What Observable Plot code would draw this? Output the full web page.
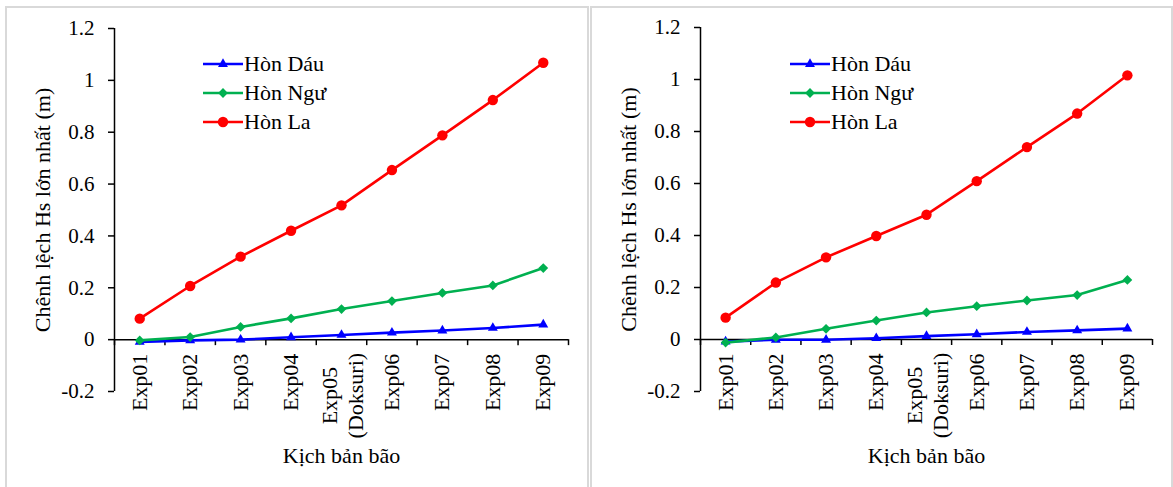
<!DOCTYPE html>
<html>
<head>
<meta charset="utf-8">
<script src="https://cdn.jsdelivr.net/npm/d3@7"></script>
<script src="https://cdn.jsdelivr.net/npm/@observablehq/plot@0.6"></script>
<style>
  html, body { margin: 0; padding: 0; background: #fff; overflow: hidden; }
  #wrap { position: relative; width: 1173px; height: 487px; overflow: hidden;
          font-family: "Liberation Serif", "Times New Roman", serif; color: #000; }
  .box { position: absolute; top: 6px; height: 520px; border: 2px solid #d9d9d9;
         border-bottom: none; box-sizing: border-box; }
  .panel { position: absolute; top: 0; }
  .panel svg text { font-family: "Liberation Serif", "Times New Roman", serif; }
  .legend { position: absolute; top: 49px; font-size: 22px; line-height: 29px; }
  .legend .row { display: flex; align-items: center; height: 29px; white-space: nowrap; }
  .legend svg { display: block; margin-right: 1px; }
</style>
</head>
<body>
<div id="wrap">
  <div class="box" style="left:5px;width:584px"></div>
  <div class="box" style="left:590px;width:583px"></div>
  <div id="p1" class="panel" style="left:0px"></div>
  <div id="p2" class="panel" style="left:586px"></div>
</div>
<script>
// ---------- data ----------
const categories = ["Exp01", "Exp02", "Exp03", "Exp04", "Exp05", "Exp06", "Exp07", "Exp08", "Exp09"];
const tickLabels = ["Exp01", "Exp02", "Exp03", "Exp04", "Exp05\n(Doksuri)", "Exp06", "Exp07", "Exp08", "Exp09"];
const seriesNames = ["Hòn Dáu", "Hòn Ngư", "Hòn La"];

// left panel
const leftHonDau = [-0.009, -0.003, 0.000, 0.009, 0.018, 0.027, 0.035, 0.045, 0.058];
const leftHonNgu = [-0.003, 0.010, 0.049, 0.082, 0.118, 0.149, 0.180, 0.209, 0.276];
const leftHonLa  = [0.081, 0.207, 0.320, 0.420, 0.518, 0.654, 0.788, 0.924, 1.068];

// right panel
const rightHonDau = [-0.008, -0.001, -0.001, 0.005, 0.013, 0.020, 0.029, 0.035, 0.042];
const rightHonNgu = [-0.012, 0.008, 0.041, 0.073, 0.104, 0.128, 0.150, 0.171, 0.229];
const rightHonLa  = [0.084, 0.219, 0.316, 0.398, 0.480, 0.609, 0.740, 0.869, 1.016];

const yTicks = [-0.2, 0, 0.2, 0.4, 0.6, 0.8, 1, 1.2];
const yTitle = "Chênh lệch Hs lớn nhất (m)";
const xTitle = "Kịch bản bão";

// ---------- styles ----------
const seriesColors = ["#0000ff", "#00b050", "#ff0000"];
const seriesSymbols = ["triangle", "diamond2", "circle"];
const seriesR = [3.7, 4.4, 5.2];
const d3Symbols = {triangle: d3.symbolTriangle, diamond2: d3.symbolDiamond2, circle: d3.symbolCircle};
const FONT = '"Liberation Serif", "Times New Roman", serif';

function makePanel(values, marginTop, marginRight) {
  const rows = [];
  seriesNames.forEach((name, s) =>
    values[s].forEach((v, i) => rows.push({series: name, pos: i + 0.5, value: v})));
  const labelRows = tickLabels.map((t, i) => ({pos: i + 0.5, text: t}));
  const single = labelRows.filter(d => !d.text.includes("\n"));
  const multi = labelRows.filter(d => d.text.includes("\n"));

  const seriesMarks = [];
  seriesNames.forEach((name, s) => {
    const data = rows.filter(d => d.series === name);
    seriesMarks.push(Plot.line(data, {x: "pos", y: "value", stroke: seriesColors[s], strokeWidth: 2.6}));
    seriesMarks.push(Plot.dot(data, {x: "pos", y: "value", fill: seriesColors[s], stroke: "none",
                                     symbol: seriesSymbols[s], r: seriesR[s]}));
  });

  return Plot.plot({
    width: 586,
    height: 487,
    marginLeft: 114,
    marginRight,
    marginTop,
    marginBottom: 96,
    x: {domain: [0, categories.length], axis: null},
    y: {domain: [-0.2, 1.2], axis: null},
    style: `font-family: ${FONT}; font-size: 22px; background: transparent; overflow: visible; color: #000;`,
    marks: [
      Plot.axisY({ticks: yTicks, tickFormat: d => String(d), tickSize: 6, tickPadding: 14,
                  label: null, fontSize: 21, fontFamily: FONT, strokeWidth: 1.5, color: "#000"}),
      Plot.ruleX([0], {stroke: "#000", strokeWidth: 1.5}),
      Plot.ruleX(d3.range(categories.length + 1), {x: d => d, y1: 0, y2: 0, insetBottom: -6,
                  stroke: "#000", strokeWidth: 1.5}),
      Plot.ruleY([0], {stroke: "#000", strokeWidth: 1.5}),
      ...seriesMarks,
      Plot.text(single, {x: "pos", y: 0, text: "text", rotate: -90, textAnchor: "end",
                         lineAnchor: "middle", dy: 14, fontSize: 22, fontFamily: FONT, fill: "#000"}),
      Plot.text(multi, {x: "pos", y: 0, text: "text", rotate: -90, textAnchor: "middle",
                        lineAnchor: "middle", dy: 56, lineHeight: 1.18, fontSize: 22, fontFamily: FONT, fill: "#000"}),
      Plot.text([yTitle], {frameAnchor: "left", rotate: -90, textAnchor: "middle", lineAnchor: "middle",
                           dx: -72, fontSize: 22, fontFamily: FONT, fill: "#000"}),
      Plot.text([xTitle], {frameAnchor: "bottom", textAnchor: "middle", lineAnchor: "middle",
                           dy: 64, fontSize: 22, fontFamily: FONT, fill: "#000"})
    ]
  });
}

function makeLegend(container, left) {
  const lg = document.createElement("div");
  lg.className = "legend";
  lg.style.left = left + "px";
  seriesNames.forEach((name, s) => {
    const row = document.createElement("div");
    row.className = "row";
    const svg = d3.create("svg").attr("width", 40).attr("height", 20);
    svg.append("line").attr("x1", 0).attr("x2", 40).attr("y1", 10).attr("y2", 10)
      .attr("stroke", seriesColors[s]).attr("stroke-width", 2.6);
    svg.append("path").attr("transform", "translate(20,10)")
      .attr("d", d3.symbol(d3Symbols[seriesSymbols[s]], Math.PI * seriesR[s] * seriesR[s])())
      .attr("fill", seriesColors[s]);
    row.appendChild(svg.node());
    const span = document.createElement("span");
    span.textContent = name;
    row.appendChild(span);
    lg.appendChild(row);
  });
  container.appendChild(lg);
}

const p1 = document.getElementById("p1");
const p2 = document.getElementById("p2");
p1.appendChild(makePanel([leftHonDau, leftHonNgu, leftHonLa], 28, 18));
p2.appendChild(makePanel([rightHonDau, rightHonNgu, rightHonLa], 27, 20));
makeLegend(p1, 203);
makeLegend(p2, 204);
</script>
</body>
</html>
